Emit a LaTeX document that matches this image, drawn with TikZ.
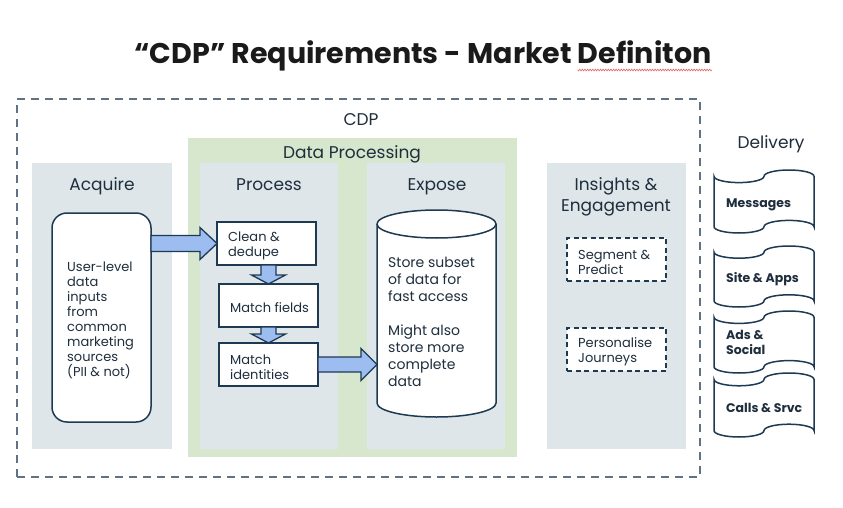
\documentclass[tikz,border=0pt]{standalone}
\usepackage{fontspec}
\setmainfont{Poppins}
\usetikzlibrary{calc,decorations.pathmorphing}
\definecolor{txt}{HTML}{1F2E3D}
\definecolor{titlec}{HTML}{1A1A1A}
\definecolor{panelc}{HTML}{DFE6EA}
\definecolor{dpgreen}{HTML}{D6E7CD}
\definecolor{edgec}{HTML}{1E3A52}
\definecolor{arrowc}{HTML}{9DBDF0}
\definecolor{dashgrey}{HTML}{5F7384}
\definecolor{squig}{HTML}{E06666}
\newcommand\fatarrow[6]{%
  \coordinate (#6-b) at ($(#2)!#5!(#1)$);
  \draw[bigarrow] ($(#1)!#3!90:(#2)$) -- ($(#6-b)!#3!90:(#2)$) -- ($(#6-b)!#4!90:(#2)$)
    -- (#2) -- ($(#6-b)!#4!-90:(#2)$) -- ($(#6-b)!#3!-90:(#2)$) -- ($(#1)!#3!-90:(#2)$) -- cycle;}
% tape shape: #1 left x, #2 top y, #3 height
\newcommand\tapepath[3]{%
  \pgfmathsetmacro\tr{#3/10}%
  \draw[tapeline] (#1,#2+\tr) arc[start angle=180,end angle=0,x radius=25,y radius=\tr]
    arc[start angle=180,end angle=360,x radius=25,y radius=\tr]
    -- (#1+100,#2+#3-\tr)
    arc[start angle=0,end angle=-180,x radius=25,y radius=\tr]
    arc[start angle=0,end angle=180,x radius=25,y radius=\tr]
    -- cycle;}
\tikzset{
  panel/.style={fill=panelc, draw=none, anchor=north west, inner sep=0pt, outer sep=0pt},
  heading/.style={font=\fontsize{17}{20.5}\selectfont, text=txt, align=center, anchor=base, inner sep=0pt},
  body/.style={font=\fontsize{13}{15}\selectfont, text=txt, align=left, inner sep=0pt, yshift=-2.5pt},
  procbox/.style={draw=edgec, line width=1.5pt, fill=white, anchor=north west, inner sep=0pt, outer sep=0pt},
  dashbox/.style={procbox, dash pattern=on 5pt off 3.5pt},
  bigarrow/.style={draw=edgec, line width=1.3pt, fill=arrowc, line join=miter},
  tapeline/.style={draw=edgec, line width=1.5pt, fill=white},
  tapetext/.style={font=\bfseries\fontsize{12.5}{15}\selectfont, text=txt, align=left, inner sep=0pt, anchor=west, yshift=-2.5pt},
}
\begin{document}
\begin{tikzpicture}[x=1pt,y=-1pt]
\useasboundingbox (0,0) rectangle (843,508);
\fill[white] (0,0) rectangle (843,508);
% title
\node[font=\bfseries\fontsize{28.5}{34}\selectfont, text=titlec, anchor=base, inner sep=0pt] (title) at (423,64) {“CDP” Requirements - Market Definiton};
\draw[squig, line width=0.6pt, decorate, decoration={zigzag, amplitude=0.9pt, segment length=2.6pt}]
  ($(title.base east)+(0,6)$) -- ($(title.base east)+(-134,6)$);
% CDP dashed frame
\node[draw=dashgrey, line width=1.8pt, dash pattern=on 8pt off 6pt, anchor=north west, inner sep=0pt, outer sep=0pt,
  minimum width=683pt, minimum height=378pt] (cdp) at (17,99) {};
\node[heading] (cdpl) at (361,126) {CDP};
% data processing
\node[panel, fill=dpgreen, minimum width=329pt, minimum height=319pt] (dp) at (188,138) {};
\node[heading] (dpl) at (352,158) {Data Processing};
% panels
\node[panel, minimum width=140pt, minimum height=286pt] (acqp) at (32,163) {};
\node[panel, minimum width=138pt, minimum height=286pt] (procp) at (200,163) {};
\node[panel, minimum width=138pt, minimum height=286pt] (expp) at (367,163) {};
\node[panel, minimum width=139pt, minimum height=286pt] (insp) at (547,163) {};
\node[heading] (acql) at (102,190) {Acquire};
\node[heading] (procl) at (269,190) {Process};
\node[heading] (expl) at (437,190) {Expose};
\node[heading, anchor=north, font=\fontsize{17}{21}\selectfont] (insl) at (616,177.5) {Insights \&\\Engagement};
% acquire box
\node[procbox, rounded corners=15pt, minimum width=99pt, minimum height=209pt] (acq) at (52,213) {};
\node[body, anchor=west] (acqt) at ([xshift=15pt]acq.west) {User-level\\data\\inputs\\from\\common\\marketing\\sources\\(PII \& not)};
% process boxes
\node[procbox, minimum width=99pt, minimum height=43pt] (clean) at (217,222) {};
\node[body, anchor=west] (cleant) at ([xshift=11pt]clean.west) {Clean \&\\dedupe};
\node[procbox, minimum width=99pt, minimum height=43pt] (mf) at (219,284) {};
\node[body, anchor=west] (mft) at ([xshift=11pt]mf.west) {Match fields};
\node[procbox, minimum width=99pt, minimum height=43pt] (mid) at (219,343) {};
\node[body, anchor=west] (midt) at ([xshift=11pt]mid.west) {Match\\identities};
% cylinder
\node[anchor=north west, inner sep=0pt, outer sep=0pt, minimum width=119pt, minimum height=207pt] (cyl) at (377,210) {};
\draw[draw=edgec, line width=1.5pt, fill=white] (377,224) -- (377,403)
  arc[start angle=180,end angle=0,x radius=59.5,y radius=14] -- (496,224)
  arc[start angle=360,end angle=180,x radius=59.5,y radius=14] -- cycle;
\draw[draw=edgec, line width=1.5pt] (377,224) arc[start angle=180,end angle=0,x radius=59.5,y radius=14];
\node[body, font=\fontsize{14}{17}\selectfont, anchor=west, yshift=2pt] (cylt) at (388,321) {Store subset\\of data for\\fast access\\[17pt]Might also\\store more\\complete\\data};
% arrows
\fatarrow{acq.east |- clean.west}{clean.west}{8pt}{16pt}{17pt}{a1}
\fatarrow{mf.north |- clean.south}{mf.north}{7.5pt}{17pt}{9pt}{a2}
\fatarrow{mid.north |- mf.south}{mid.north}{7.5pt}{17pt}{9pt}{a3}
\fatarrow{mid.east}{cyl.west |- mid.east}{7.5pt}{16pt}{16pt}{a4}
% insights boxes
\node[dashbox, minimum width=99pt, minimum height=43pt] (seg) at (567,238) {};
\node[body, anchor=west] (segt) at ([xshift=11pt]seg.west) {Segment \&\\Predict};
\node[dashbox, minimum width=99pt, minimum height=43pt] (pers) at (567,328) {};
\node[body, anchor=west] (perst) at ([xshift=11pt]pers.west) {Personalise\\Journeys};
% delivery
\node[heading] (dell) at (771,148) {Delivery};
\tapepath{714}{170}{63}
\node[tapetext] (msg) at (726,202) {Messages};
\tapepath{714}{246}{61}
\node[tapetext] (site) at (726,277) {Site \& Apps};
\tapepath{714}{311}{62}
\node[tapetext] (ads) at (726,340) {Ads \&\\Social};
\tapepath{714}{373}{64}
\node[tapetext] (calls) at (726,405) {Calls \& Srvc};
\end{tikzpicture}
\end{document}
